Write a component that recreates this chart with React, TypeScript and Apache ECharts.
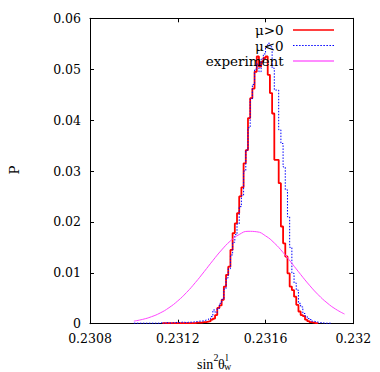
import React, { useEffect, useRef } from 'react';
import * as echarts from 'echarts';

const xMin = 0.2308;
const xMax = 0.232;
const xStep = 0.0004;
const xTickLabels = ['0.2308', '0.2312', '0.2316', '0.232'];
const yMin = 0;
const yMax = 0.06;
const yStep = 0.01;
const yTickLabels = ['0', '0.01', '0.02', '0.03', '0.04', '0.05', '0.06'];

const seriesNames = ['\u03bc>0', '\u03bc<0', 'experiment'];

const binWidth = 0.00001;
// mu > 0 histogram, bins start at 0.23113
const redStart = 0.23113;
const muPositive = [
  0.0001, 0.0001, 0.0001, 0.0001, 0.0001, 0.0001, 0.0001, 0.0001, 0.0001, 0.0001, 0.0001, 0.0001,
  0.0001, 0.0001, 0.0001, 0.0002, 0.0002, 0.0002, 0.0003, 0.0003, 0.0004, 0.0005,
  0.0008, 0.0010, 0.0017, 0.0031, 0.0036, 0.0047, 0.0073, 0.0096, 0.0112, 0.0145,
  0.0178, 0.0197, 0.0217, 0.0250, 0.0268, 0.0315, 0.0341, 0.0404, 0.0443, 0.0462,
  0.0495, 0.0525, 0.0505, 0.0515, 0.0522, 0.0525, 0.0489, 0.0453, 0.0413, 0.0322,
  0.0322, 0.0276, 0.0191, 0.0158, 0.0132, 0.0099, 0.0073, 0.0066, 0.0053, 0.0037,
  0.0024, 0.0017, 0.0015, 0.0008, 0.0005, 0.0003, 0.0002, 0.0001, 0.0001,
];
// mu < 0 histogram, bins start at 0.23100
const blueStart = 0.231;
const muNegative = [
  0.0001, 0.0001, 0.0001, 0.0001, 0.0001, 0.0001, 0.0001, 0.0001, 0.0001, 0.0001,
  0.0001, 0.0001, 0.0002, 0.0001, 0.0002, 0.0002, 0.0001, 0.0002, 0.0002, 0.0003,
  0.0002, 0.0003, 0.0003, 0.0002, 0.0003,
  0.0003, 0.0003, 0.0004, 0.0004, 0.0005, 0.0005, 0.0006, 0.0007, 0.0008, 0.0010,
  0.0014, 0.0027, 0.0022, 0.0030, 0.0040, 0.0048, 0.0068, 0.0090, 0.0108, 0.0135,
  0.0160, 0.0175, 0.0196, 0.0230, 0.0252, 0.0300, 0.0341, 0.0385, 0.0441, 0.0470,
  0.0500, 0.0510, 0.0495, 0.0520, 0.0530, 0.0545, 0.0551, 0.0544, 0.0502, 0.0459,
  0.0459, 0.0381, 0.0354, 0.0308, 0.0263, 0.0210, 0.0150, 0.0099, 0.0080, 0.0066,
  0.0040, 0.0033, 0.0020, 0.0015, 0.0010, 0.0008, 0.0005, 0.0004, 0.0003, 0.0002,
  0.0002, 0.0001, 0.0001, 0.0001, 0.0001,
];
// experiment curve
const expX = [
  0.231, 0.23104, 0.23108, 0.23112, 0.23116, 0.2312, 0.23124, 0.23128, 0.23132, 0.23136,
  0.2314, 0.23144, 0.23148, 0.23152, 0.23156, 0.2316, 0.23164, 0.23168, 0.23172, 0.23176,
  0.2318, 0.23184, 0.23188, 0.23192, 0.23196,
];
const expY = [
  0.00051, 0.00085, 0.00137, 0.00211, 0.00314, 0.00448, 0.00613, 0.00807, 0.01021, 0.01241,
  0.01449, 0.01626, 0.01752, 0.01815, 0.01806, 0.01726, 0.01586, 0.01399, 0.01186, 0.00967,
  0.00757, 0.00569, 0.00411, 0.00285, 0.0019,
];

function histData(start: number, values: number[]) {
  const pts = values.map((v, i) => [start + i * binWidth, v]);
  pts.push([start + values.length * binWidth, 0]);
  return pts;
}

function dottedIcon(): string {
  let d = 'path://';
  for (let x = 0; x < 41; x += 3) d += `M${x},0h1.5v1h-1.5z `;
  return d;
}

const FONT = 'DejaVu Serif';
const SERIF = 'Liberation Serif';

export default function App() {
  const ref = useRef<HTMLDivElement>(null);
  useEffect(() => {
    if (!ref.current) return;
    const chart = echarts.init(ref.current, null, { renderer: 'svg' });
    const axisLine = { show: true, onZero: false, lineStyle: { color: '#000', width: 1 } };
    const axisTick = { show: true, inside: true, length: 4, lineStyle: { color: '#000', width: 1 } };
    const xLabel = (v: number) => xTickLabels[Math.round((v - xMin) / xStep)] ?? '';
    const yLabel = (v: number) => yTickLabels[Math.round((v - yMin) / yStep)] ?? '';
    chart.setOption({
      animation: false,
      backgroundColor: '#fff',
      grid: { left: 90, right: 26.7, top: 18.3, bottom: 48.3, containLabel: false },
      xAxis: [
        {
          type: 'value', min: xMin, max: xMax, interval: xStep,
          axisLine, axisTick,
          axisLabel: { margin: 8, fontFamily: FONT, fontSize: 12.5, color: '#000', formatter: xLabel },
          splitLine: { show: false },
        },
        {
          type: 'value', position: 'top', min: xMin, max: xMax, interval: xStep,
          axisLine, axisTick, axisLabel: { show: false }, splitLine: { show: false },
        },
      ],
      yAxis: [
        {
          type: 'value', min: yMin, max: yMax, interval: yStep,
          axisLine, axisTick,
          axisLabel: { margin: 9, fontFamily: FONT, fontSize: 12.5, color: '#000', formatter: yLabel },
          splitLine: { show: false },
        },
        {
          type: 'value', position: 'right', min: yMin, max: yMax, interval: yStep,
          axisLine, axisTick, axisLabel: { show: false }, splitLine: { show: false },
        },
      ],
      legend: {
        data: [
          { name: seriesNames[0], icon: 'rect', itemStyle: { color: '#ff0000', borderWidth: 0 } },
          { name: seriesNames[1], icon: dottedIcon(), itemStyle: { color: '#0000ff', borderWidth: 0 } },
          { name: seriesNames[2], icon: 'rect', itemStyle: { color: '#ff66ff', borderWidth: 0 } },
        ],
        orient: 'vertical',
        align: 'right',
        right: 46,
        top: 22.25,
        padding: 0,
        itemGap: 0,
        itemWidth: 41,
        itemHeight: 1.5,
        selectedMode: false,
        itemStyle: { borderWidth: 0 },
        formatter: (n: string) => n + '\u00a0',
        textStyle: { fontFamily: FONT, fontSize: 13.5, color: '#000', lineHeight: 15.5 },
      },
      series: [
        {
          name: seriesNames[0], type: 'line', step: 'end', symbol: 'none',
          data: histData(redStart, muPositive),
          lineStyle: { color: '#ff0000', width: 1.8 },
          itemStyle: { color: '#ff0000' },
        },
        {
          name: seriesNames[1], type: 'line', step: 'end', symbol: 'none',
          data: histData(blueStart, muNegative),
          lineStyle: { color: '#0000ff', width: 1, type: [1.5, 1.5] },
          itemStyle: { color: '#0000ff' },
        },
        {
          name: seriesNames[2], type: 'line', smooth: true, symbol: 'none',
          data: expX.map((x, i) => [x, expY[i]]),
          lineStyle: { color: '#ff44ff', width: 1 },
          itemStyle: { color: '#ff44ff' },
        },
      ],
      graphic: [
        {
          type: 'text', x: 14, y: 170, rotation: Math.PI / 2,
          style: { text: 'P', font: `13.5px "${FONT}"`, fill: '#000', align: 'center', verticalAlign: 'middle' },
        },
        { type: 'text', x: 197, y: 364, style: { text: 'sin', font: `14px "${SERIF}"`, fill: '#000', align: 'left', verticalAlign: 'middle' } },
        { type: 'text', x: 213.5, y: 357, style: { text: '2', font: `10px "${SERIF}"`, fill: '#000', align: 'left', verticalAlign: 'middle' } },
        { type: 'text', x: 218, y: 364, style: { text: '\u03b8', font: `14px "${SERIF}"`, fill: '#000', align: 'left', verticalAlign: 'middle' } },
        { type: 'text', x: 225.5, y: 357, style: { text: 'l', font: `10px "${SERIF}"`, fill: '#000', align: 'left', verticalAlign: 'middle' } },
        { type: 'text', x: 224, y: 371.5, style: { text: 'w', font: `10px "${SERIF}"`, fill: '#000', align: 'left', verticalAlign: 'bottom' } },
      ],
    });
    return () => chart.dispose();
  }, []);
  return <div ref={ref} style={{ position: 'fixed', left: 0, top: 0, width: 380, height: 372 }} />;
}
